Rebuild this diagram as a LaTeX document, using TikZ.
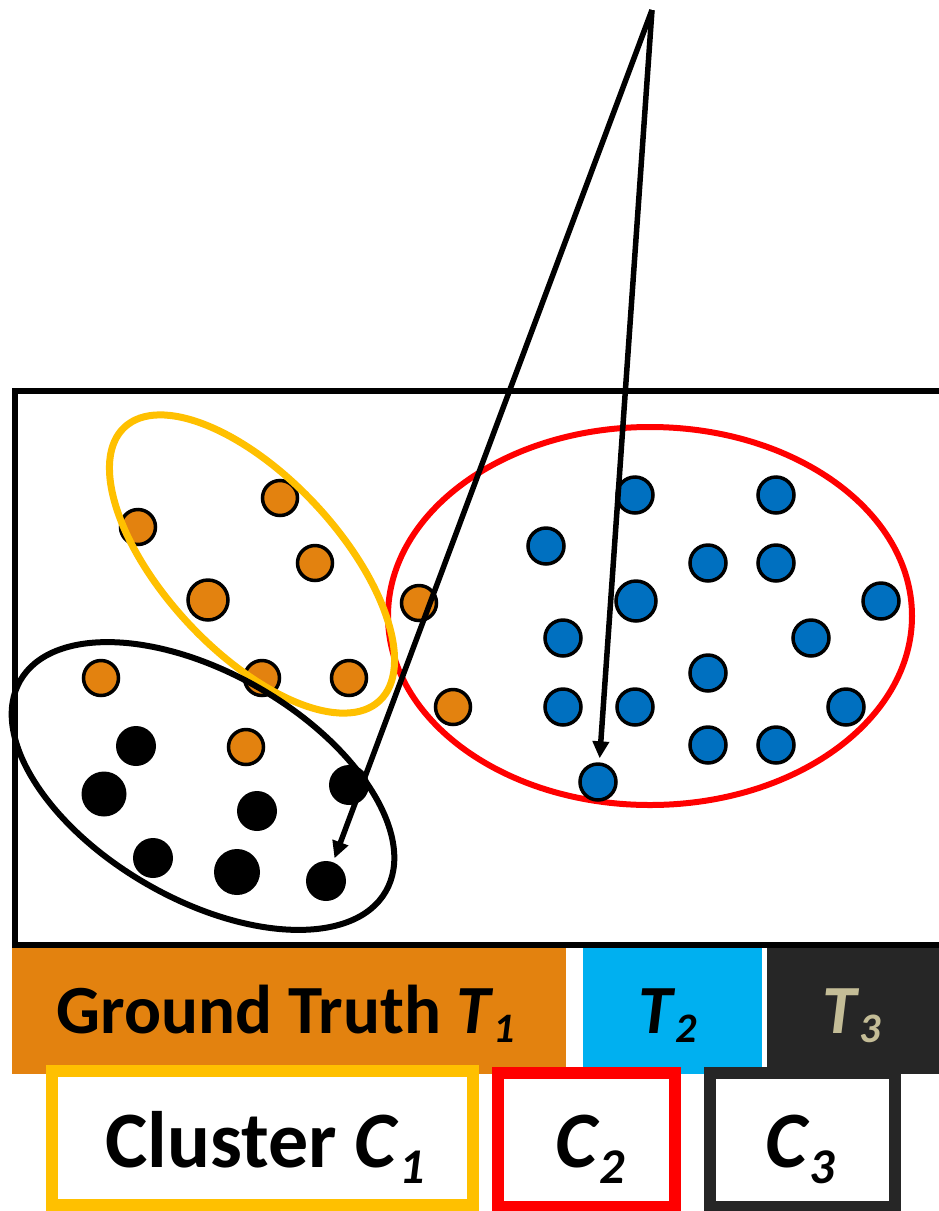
\documentclass[tikz,border=0pt]{standalone}
\usepackage{fontspec}
\setmainfont{Carlito}
\usetikzlibrary{arrows.meta}
\definecolor{dotorange}{HTML}{E3820F}
\definecolor{dotblue}{HTML}{0070C0}
\definecolor{cyanbar}{HTML}{00B0F0}
\definecolor{darkbar}{HTML}{262626}
\definecolor{tanT}{HTML}{C4BD97}
\definecolor{clyellow}{HTML}{FFC000}
\newcommand{\subA}[1]{\raisebox{-9pt}{\fontsize{42}{42}\selectfont\itshape #1}}
\newcommand{\subB}[1]{\raisebox{-16pt}{\fontsize{50}{50}\selectfont\itshape #1}}
\begin{document}
\begin{tikzpicture}[x=1pt,y=-1pt,
  odot/.style={circle,draw=black,line width=3.5pt,fill=dotorange,inner sep=0pt,minimum size=35pt},
  bdot/.style={circle,draw=black,line width=3.5pt,fill=dotblue,inner sep=0pt,minimum size=36pt},
  kdot/.style={circle,fill=black,inner sep=0pt,minimum size=40pt},
  arr/.style={line width=5.5pt,-{Triangle[length=17pt,width=16pt]},shorten >=4pt},
  bar/.style={inner sep=0pt,minimum height=126pt},
  cbox/.style={draw,line width=12pt,inner sep=0pt,minimum height=134pt},
  gtfont/.style={font=\fontsize{69}{69}\selectfont\bfseries},
  clfont/.style={font=\fontsize{80}{80}\selectfont\bfseries}]
\useasboundingbox (0,0) rectangle (938,1211);
% frame
\draw[line width=6pt] (950,391) -- (15,391) -- (15,945) -- (950,945);
% red ellipse
\draw[red,line width=6pt] (650,616) ellipse [x radius=262, y radius=189];
% dots
\node[odot] (o1) at (280,498) {};
\node[odot] (o2) at (138,527) {};
\node[odot] (o3) at (315,563) {};
\node[odot,minimum size=40pt] (o4) at (208,600) {};
\node[odot] (o5) at (101,678) {};
\node[odot] (o6) at (262,678) {};
\node[odot] (o7) at (349,678) {};
\node[odot] (o8) at (246,747) {};
\node[odot] (o9) at (419,603) {};
\node[odot] (o10) at (453,707) {};
\node[kdot] (k1) at (136,746) {};
\node[kdot,minimum size=45pt] (k2) at (104,794) {};
\node[kdot] (k3) at (349,785) {};
\node[kdot] (k4) at (257,811) {};
\node[kdot] (k5) at (153,858) {};
\node[kdot,minimum size=46pt] (k6) at (237,872) {};
\node[kdot] (k7) at (326,881) {};
\node[bdot] (b1) at (635,495) {};
\node[bdot] (b2) at (776,495) {};
\node[bdot] (b3) at (546,546) {};
\node[bdot] (b4) at (708,563) {};
\node[bdot] (b5) at (776,563) {};
\node[bdot,minimum size=40pt] (b6) at (636,601) {};
\node[bdot] (b7) at (881,601) {};
\node[bdot] (b8) at (563,638) {};
\node[bdot] (b9) at (811,638) {};
\node[bdot] (b10) at (708,673) {};
\node[bdot] (b11) at (563,707) {};
\node[bdot] (b12) at (635,707) {};
\node[bdot] (b13) at (846,707) {};
\node[bdot] (b14) at (708,745) {};
\node[bdot] (b15) at (776,745) {};
\node[bdot] (b16) at (598,782) {};
% yellow and black ellipses
\draw[clyellow,line width=7pt,rotate around={-47:(252,564)}] (252,564) ellipse [x radius=187, y radius=87];
\draw[black,line width=6pt,rotate around={-30:(203,786)}] (203,786) ellipse [x radius=211, y radius=113];
% arrows
\coordinate (apex) at (652,10);
\draw[arr] (apex) -- (k7);
\draw[arr] (apex) -- (b16);
% legend bars
\node[bar,fill=dotorange,minimum width=554pt] (barA) at (289,1011) {};
\node[bar,fill=cyanbar,minimum width=179pt] (barB) at (672.5,1011) {};
\node[bar,fill=darkbar,minimum width=190pt] (barC) at (862,1011) {};
\node[gtfont,anchor=base] (tA) at (286,1033) {Ground Truth \textit{T}\subA{1}};
\node[gtfont,anchor=base] (tB) at (668,1033) {\textit{T}\subA{2}};
\node[gtfont,anchor=base,text=tanT] (tC) at (852,1033) {\textit{T}\subA{3}};
% cluster boxes
\node[cbox,draw=clyellow,minimum width=421pt] (cA) at (262.5,1137.5) {};
\node[cbox,draw=red,minimum width=177pt] (cB) at (586.5,1140) {};
\node[cbox,draw=darkbar,minimum width=185pt] (cC) at (802.5,1140) {};
\node[clfont,anchor=base] (lA) at (265,1167) {Cluster \textit{C}\subB{1}};
\node[clfont,anchor=base] (lB) at (590,1167) {\textit{C}\subB{2}};
\node[clfont,anchor=base] (lC) at (800,1167) {\textit{C}\subB{3}};
\end{tikzpicture}
\end{document}
